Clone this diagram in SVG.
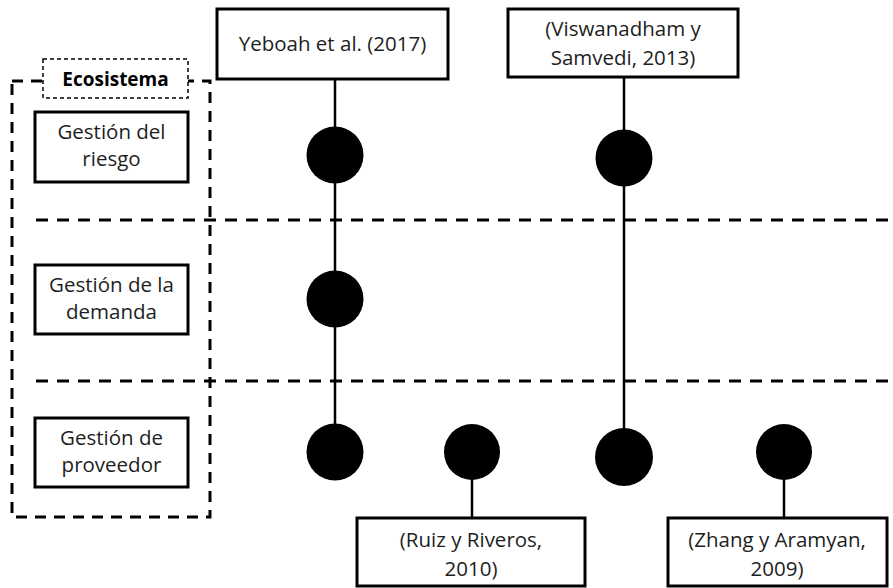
<svg xmlns="http://www.w3.org/2000/svg" width="893" height="588" viewBox="0 0 893 588">
  <style>
    .box { fill: #ffffff; stroke: #000000; stroke-width: 3; }
    .lbl { font-family: "Open Sans", "Liberation Sans", sans-serif; font-size: 20.5px; fill: #1e1e1e; text-anchor: middle; }
    .head { font-family: "Open Sans", "Liberation Sans", sans-serif; font-size: 19px; font-weight: bold; fill: #000000; text-anchor: middle; }
    .sep { fill: none; stroke: #000000; stroke-width: 3; stroke-dasharray: 12 9; }
    .frame { fill: none; stroke: #000000; stroke-width: 3; stroke-dasharray: 11 8; }
    .link { fill: none; stroke: #000000; stroke-width: 2.5; }
    .dot { fill: #000000; }
  </style>

  <!-- row separators -->
  <g id="separators">
    <line class="sep" x1="36" y1="220" x2="893" y2="220"/>
    <line class="sep" x1="36" y1="381" x2="893" y2="381"/>
  </g>

  <!-- ecosystem frame with its title tab -->
  <g id="ecosistema">
    <rect class="frame" x="12" y="81" width="198" height="436"/>
    <rect x="43" y="59" width="145" height="39" fill="#ffffff" stroke="#000000" stroke-width="1.5" stroke-dasharray="4 3"/>
    <text class="head" x="115.5" y="86">Ecosistema</text>
  </g>

  <g id="riesgo">
    <rect class="box" x="35" y="112" width="153" height="70"/>
    <text class="lbl" x="111.5" y="139">Gestión del</text>
    <text class="lbl" x="111.5" y="166">riesgo</text>
  </g>

  <g id="demanda">
    <rect class="box" x="35" y="265" width="153" height="69"/>
    <text class="lbl" x="111.5" y="292">Gestión de la</text>
    <text class="lbl" x="111.5" y="319">demanda</text>
  </g>

  <g id="proveedor">
    <rect class="box" x="35" y="418" width="153" height="69"/>
    <text class="lbl" x="111.5" y="445">Gestión de</text>
    <text class="lbl" x="111.5" y="472">proveedor</text>
  </g>

  <!-- connectors from references to their markers -->
  <g id="connectors">
    <line class="link" x1="335" y1="79" x2="335" y2="452"/>
    <line class="link" x1="624" y1="77" x2="624" y2="457"/>
    <line class="link" x1="472" y1="452" x2="472" y2="518"/>
    <line class="link" x1="784" y1="452" x2="784" y2="518"/>
  </g>

  <g id="markers">
    <circle class="dot" cx="335" cy="155" r="28.5"/>
    <circle class="dot" cx="335" cy="299" r="28.5"/>
    <circle class="dot" cx="335" cy="452" r="28.5"/>
    <circle class="dot" cx="624" cy="158" r="28.5"/>
    <circle class="dot" cx="472" cy="452" r="28"/>
    <circle class="dot" cx="624" cy="457" r="29"/>
    <circle class="dot" cx="784" cy="452" r="28"/>
  </g>

  <g id="yeboah">
    <rect class="box" x="217" y="9" width="231" height="70"/>
    <text class="lbl" x="332.5" y="51">Yeboah et al. (2017)</text>
  </g>

  <g id="viswanadham">
    <rect class="box" x="508" y="9" width="230" height="68"/>
    <text class="lbl" x="623" y="36">(Viswanadham y</text>
    <text class="lbl" x="623" y="65">Samvedi, 2013)</text>
  </g>

  <g id="ruiz">
    <rect class="box" x="357" y="518" width="228" height="68"/>
    <text class="lbl" x="471" y="547">(Ruiz y Riveros,</text>
    <text class="lbl" x="471" y="576">2010)</text>
  </g>

  <g id="zhang">
    <rect class="box" x="668" y="518" width="219" height="68"/>
    <text class="lbl" x="777" y="547">(Zhang y Aramyan,</text>
    <text class="lbl" x="777" y="576">2009)</text>
  </g>
</svg>
